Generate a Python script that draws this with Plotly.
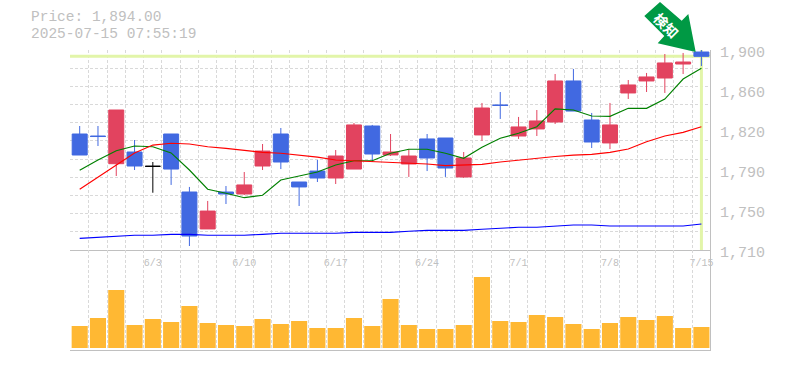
import plotly.graph_objects as go

dates = ["5/28","5/29","5/30","6/2","6/3","6/4","6/5","6/6","6/9","6/10","6/11","6/12","6/13","6/16","6/17","6/18","6/19","6/20",
         "6/23","6/24","6/25","6/26","6/27","6/30","7/1","7/2","7/3","7/4","7/7","7/8","7/9","7/10","7/11","7/14","7/15"]
opens = [1820.2,1818.3,1792,1803.1,1789.5,1820.2,1765.1,1730,1765.1,1763.2,1789.8,1820.2,1774.6,1785,1778.4,1786.9,1827.8,1800.3,
         1791.7,1815.5,1816.4,1779.4,1819.3,1847.8,1818.3,1825,1831.6,1870.6,1833.5,1811.7,1859.2,1870.6,1873.4,1886.7,1898.1]
highs = [1827.8,1827.8,1843,1814.5,1793.6,1820.2,1769.9,1756.6,1770.8,1784.1,1810.7,1825.9,1774.6,1795.5,1805,1830.7,1828.8,1820.2,
         1806,1820.2,1816.4,1803.1,1849.7,1860.1,1836.4,1843,1877.2,1882,1840.2,1849.7,1871.5,1878.2,1896.2,1897.2,1900]
lows = [1800.25,1808.8,1780.3,1786,1764.4,1771.8,1713.8,1730,1753.7,1762.3,1786,1786.9,1751.8,1774.6,1772.7,1786.9,1793.6,1799.3,
        1779.4,1785,1779.4,1778.4,1813.6,1834.5,1815.5,1818.3,1829.7,1842,1806.9,1805.9,1853.5,1860.1,1859.2,1877.2,1884.8]
closes = [1800.25,1817.8,1843,1789.8,1789.5,1786.9,1723.3,1747,1763.2,1771.8,1804,1793.6,1769.9,1778.4,1799.3,1828.8,1801.2,1803.1,
          1799.3,1797.4,1787.9,1797.4,1844.9,1847.3,1826.9,1832.6,1870.6,1842,1812.6,1828.8,1866.8,1874.4,1887.7,1888.6,1894]
ma_short = [1785.7,1795.5,1804.3,1808.8,1808.1,1802.2,1786,1767.7,1763.9,1759.7,1762,1776.5,1780.3,1784.1,1790.7,1794.8,1794.8,1801.9,
            1805.7,1805.7,1801.9,1797.1,1807.6,1816.1,1820.9,1827.1,1844,1843,1837.3,1837,1844.6,1844.6,1853.4,1872.4,1882.6]
ma_mid = [1767.7,1779.3,1790.7,1802.1,1809.7,1811.4,1810.7,1808.1,1806.6,1804.7,1802.8,1801.9,1800.2,1798.3,1795.5,1794.8,1794.5,1793.3,
          1792.9,1791.7,1790.1,1790.7,1791.4,1793.6,1795.5,1797.1,1798.8,1800.2,1800.9,1802.8,1806,1812.9,1818.3,1821.8,1827.1]
ma_long = [1721.1,1722,1723.3,1724,1724,1724.9,1724.9,1724,1724,1724,1724.9,1725.9,1725.9,1725.9,1725.9,1726.8,1726.8,1726.8,
           1727.8,1728.7,1728.7,1728.7,1729.7,1730.6,1731.6,1731.6,1732.8,1733.8,1733.8,1732.8,1732.8,1732.8,1732.8,1732.8,1734.7]
volumes = [22000,30000,58000,23000,29000,26000,42000,25000,23000,22000,29000,24000,27000,20000,20000,30000,22000,49000,
           23000,19000,19000,23000,71000,27000,26000,33000,31000,24000,19000,25000,31000,28000,32000,20000,21000]
price_labels = ["1,900","1,860","1,820","1,790","1,750","1,710"]
price_label_values = [1900,1862,1824,1786,1748,1710]
date_label_idx = [4,9,14,19,24,29,34]
last_price = 1894
title_lines = ["Price: 1,894.00","2025-07-15 07:55:19"]

GREY = "#c0c0c0"
GRID = "#d9d9d9"
RED = "#E2435F"
BLUE = "#4169E1"
W, H = 785, 370
L, R, T, B = 70, 710, 50, 350
def px(x): return (x - L) / (R - L)
def py(y): return (B - y) / (B - T)

idx = list(range(len(dates)))
doji = [i for i in idx if opens[i] == closes[i]]
normal = [i for i in idx if i not in doji]
pick = lambda arr, sel: [arr[i] for i in sel]

fig = go.Figure()
fig.add_trace(go.Bar(x=idx, y=volumes, marker=dict(color="#FFB833", line_width=0), xaxis="x2", yaxis="y2", showlegend=False))
for col, arr in (("#008000", ma_short), ("#FF0000", ma_mid), ("#0000FF", ma_long)):
    fig.add_trace(go.Scatter(x=idx, y=arr, mode="lines", line=dict(color=col, width=1.15), showlegend=False))
fig.add_trace(go.Candlestick(x=normal, open=pick(opens, normal), high=pick(highs, normal), low=pick(lows, normal), close=pick(closes, normal),
    whiskerwidth=0, showlegend=False,
    increasing=dict(line=dict(color=RED, width=1), fillcolor=RED),
    decreasing=dict(line=dict(color=BLUE, width=1), fillcolor=BLUE)))
fig.add_trace(go.Candlestick(x=doji, open=pick(opens, doji), high=pick(highs, doji), low=pick(lows, doji), close=pick(closes, doji),
    whiskerwidth=0, showlegend=False,
    increasing=dict(line=dict(color="#000000", width=1), fillcolor="#000000"),
    decreasing=dict(line=dict(color="#000000", width=1), fillcolor="#000000")))

minor_x = dict(tick0=-0.5, dtick=1, showgrid=True, gridcolor=GRID, griddash="3px,2px", gridwidth=1, ticklen=0)
xrange = [-0.53, 34.47]
arrow = [(660,2),(644.3,16),(664.3,36),(657.7,43.3),(695.7,52),(688.3,14),(681.7,20.7)]
path = "M" + " L".join(f"{px(a)},{py(b)}" for a, b in arrow) + " Z"

annotations = [dict(xref="paper", yref="paper", x=px(30), y=py(17.5 + 16.5*i), text=t, showarrow=False, xanchor="left", yanchor="middle",
                    borderpad=0, font=dict(family="Liberation Mono", size=14.5, color=GREY)) for i, t in enumerate(title_lines)]
annotations += [dict(xref="paper", yref="y", x=1, y=v, yshift=-3, xshift=8, text=t, showarrow=False, xanchor="left", yanchor="middle",
                     font=dict(family="Liberation Mono", size=15, color=GREY)) for t, v in zip(price_labels, price_label_values)]
annotations.append(dict(xref="paper", yref="paper", x=px(666.5), y=py(24.5), text="<b>検知</b>", textangle=45, showarrow=False,
                        xanchor="center", yanchor="middle",
                        font=dict(family="Noto Sans CJK JP", size=14, color="#ffffff")))

fig.update_layout(
    width=W, height=H, autosize=False, paper_bgcolor="#ffffff", plot_bgcolor="#ffffff",
    margin=dict(l=L, r=W-R, t=T, b=H-B), boxmode="overlay", boxgap=0.18, boxgroupgap=0, bargap=0.12, hovermode=False,
    xaxis=dict(domain=[0,1], anchor="y", range=xrange, rangeslider=dict(visible=False), tickmode="array",
               tickvals=date_label_idx, ticktext=pick(dates, date_label_idx), ticks="", showgrid=False, zeroline=False,
               tickfont=dict(family="Liberation Mono", size=10, color=GREY), ticklabelstandoff=3,
               showline=True, linecolor=GREY, linewidth=1, minor=minor_x),
    xaxis2=dict(domain=[0,1], anchor="y2", range=xrange, showticklabels=False, ticks="", showgrid=False, zeroline=False,
                showline=True, linecolor=GREY, linewidth=1, minor=minor_x),
    yaxis=dict(domain=[py(250),1], anchor="x", side="right", range=[1710,1900.01], showticklabels=False, ticks="", showgrid=False, zeroline=False,
               showline=True, linecolor=GREY, linewidth=1,
               minor=dict(tick0=1710, dtick=190/11, showgrid=True, gridcolor=GRID, griddash="3px,2px", gridwidth=1, ticklen=0)),
    yaxis2=dict(domain=[0,py(250)], anchor="x2", side="right", range=[-2000,98000], showticklabels=False, ticks="", showgrid=False, zeroline=False,
                showline=True, linecolor=GREY, linewidth=1),
    shapes=[
        dict(type="line", xref="x", yref="y", x0=xrange[0], x1=xrange[1], y0=last_price, y1=last_price, line=dict(color="#E2F5A9", width=3), layer="between"),
        dict(type="line", xref="x", yref="y", x0=idx[-1], x1=idx[-1], y0=1710, y1=1900, line=dict(color="#E2F5A9", width=3), layer="between"),
        dict(type="path", xref="paper", yref="paper", path=path, fillcolor="#009944", line=dict(width=0)),
    ],
    annotations=annotations,
)
fig.write_html("out.html", config=dict(displayModeBar=False), post_script="document.body.style.margin='0';")
